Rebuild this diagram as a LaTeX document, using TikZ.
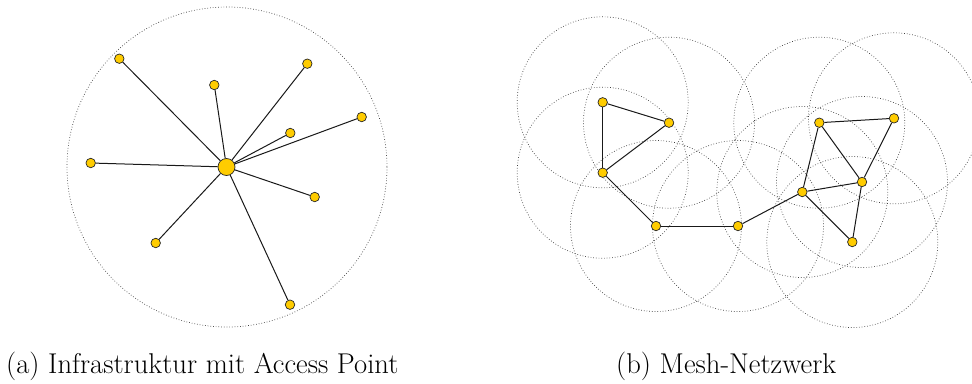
\documentclass[tikz,border=0pt]{standalone}
\definecolor{nodegold}{RGB}{255,204,0}
\tikzset{
  station/.style={circle, draw=black!85, line width=0.7pt, fill=nodegold, inner sep=0pt, minimum size=9.5pt},
  accesspt/.style={circle, draw=black!85, line width=0.7pt, fill=nodegold, inner sep=0pt, minimum size=17pt},
  link/.style={draw=black!90, line width=1pt},
  coverage/.style={draw=black!75, dotted, line width=0.7pt},
  captext/.style={anchor=base west, inner sep=0pt, font=\fontsize{28.6}{34}\selectfont}
}
\begin{document}
\begin{tikzpicture}[x=1pt, y=-1pt]
\useasboundingbox (0,0) rectangle (972,383);

% ---------- (a) infrastructure mode ----------
\draw[coverage] (227,167) circle (160);
\node[accesspt] (ap) at (226.5,167) {};
\node[station] (s1) at (119.3,58.7) {};
\node[station] (s2) at (214.3,85) {};
\node[station] (s3) at (307.3,63.7) {};
\node[station] (s4) at (361.7,117) {};
\node[station] (s5) at (290.3,133) {};
\node[station] (s6) at (90.7,163) {};
\node[station] (s7) at (314.7,197) {};
\node[station] (s8) at (155.7,243) {};
\node[station] (s9) at (290,304.7) {};
\foreach \s in {s1,s2,s3,s4,s5,s6,s7,s8,s9}
  \draw[link] (ap) -- (\s);

% ---------- (b) mesh network ----------
\coordinate (pA) at (602.7,102.3);
\coordinate (pB) at (669,122.7);
\coordinate (pC) at (602.7,172.7);
\coordinate (pD) at (656,226);
\coordinate (pE) at (738,226);
\coordinate (pF) at (802.3,192);
\coordinate (pG) at (819.3,122.7);
\coordinate (pH) at (894,118.3);
\coordinate (pI) at (862,182);
\coordinate (pJ) at (852.3,242);
\foreach \p in {pA,pB,pC,pD,pE,pF,pG,pH,pI,pJ}
  \draw[coverage] (\p) circle (85.5);
\foreach \p/\n in {pA/mA,pB/mB,pC/mC,pD/mD,pE/mE,pF/mF,pG/mG,pH/mH,pI/mI,pJ/mJ}
  \node[station] (\n) at (\p) {};
\foreach \u/\v in {mA/mB, mA/mC, mB/mC, mC/mD, mD/mE, mE/mF, mF/mG,
                   mG/mH, mG/mI, mH/mI, mF/mI, mF/mJ, mI/mJ}
  \draw[link] (\u) -- (\v);

% ---------- captions ----------
\node[captext] (capa) at (6,373) {(a) Infrastruktur mit Access Point};
\node[captext] (capb) at (616,373) {(b) Mesh-Netzwerk};
\end{tikzpicture}
\end{document}
